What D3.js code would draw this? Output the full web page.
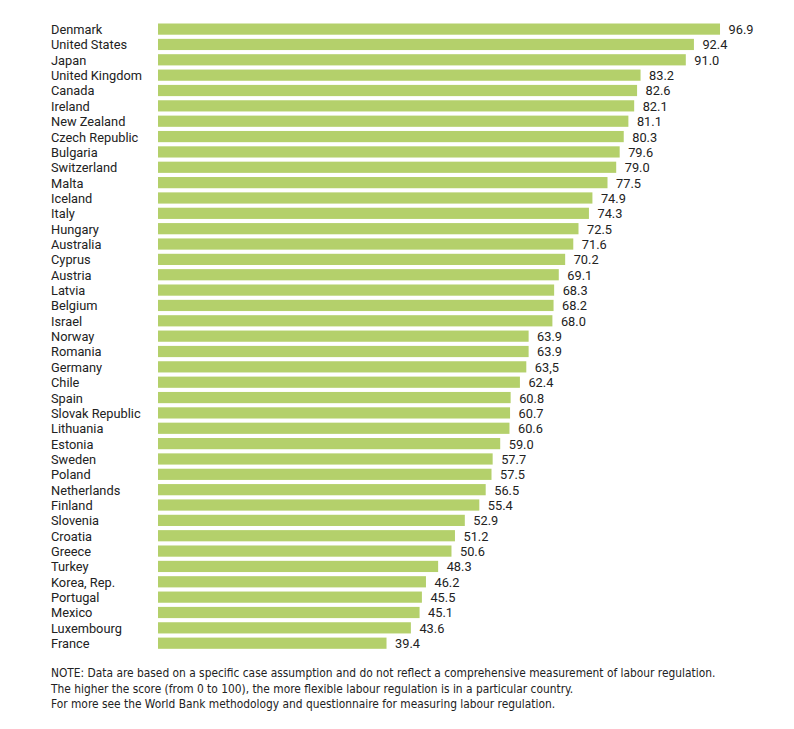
<!DOCTYPE html>
<html><head><meta charset="utf-8">
<script src="https://cdn.jsdelivr.net/npm/d3@7"></script>
<style>body{margin:0;background:#fff;}svg{display:block;}</style>
</head><body>
<svg id="chart" width="794" height="729"></svg>
<script>
const countries = ["Denmark","United States","Japan","United Kingdom","Canada","Ireland","New Zealand","Czech Republic","Bulgaria","Switzerland","Malta","Iceland","Italy","Hungary","Australia","Cyprus","Austria","Latvia","Belgium","Israel","Norway","Romania","Germany","Chile","Spain","Slovak Republic","Lithuania","Estonia","Sweden","Poland","Netherlands","Finland","Slovenia","Croatia","Greece","Turkey","Korea, Rep.","Portugal","Mexico","Luxembourg","France"];
const values = [96.9,92.4,91.0,83.2,82.6,82.1,81.1,80.3,79.6,79.0,77.5,74.9,74.3,72.5,71.6,70.2,69.1,68.3,68.2,68.0,63.9,63.9,63.5,62.4,60.8,60.7,60.6,59.0,57.7,57.5,56.5,55.4,52.9,51.2,50.6,48.3,46.2,45.5,45.1,43.6,39.4];
const valueLabels = ["96.9","92.4","91.0","83.2","82.6","82.1","81.1","80.3","79.6","79.0","77.5","74.9","74.3","72.5","71.6","70.2","69.1","68.3","68.2","68.0","63.9","63.9","63,5","62.4","60.8","60.7","60.6","59.0","57.7","57.5","56.5","55.4","52.9","51.2","50.6","48.3","46.2","45.5","45.1","43.6","39.4"];
const noteLines = [
  "NOTE: Data are based on a specific case assumption and do not reflect a comprehensive measurement of labour regulation.",
  "The higher the score (from 0 to 100), the more flexible labour regulation is in a particular country.",
  "For more see the World Bank methodology and questionnaire for measuring labour regulation."
];

const svg = d3.select("#chart");
const x = d3.scaleLinear().domain([0, 100]).range([158, 158 + 580]);
const y = d3.scaleBand().domain(countries).range([21.5, 650.8]).paddingInner(0.27).paddingOuter(0.13);

const font = "Roboto, 'Open Sans', sans-serif";

svg.append("g").selectAll("rect").data(countries).join("rect")
  .attr("x", x(0))
  .attr("y", d => y(d))
  .attr("width", (d, i) => x(values[i]) - x(0))
  .attr("height", y.bandwidth())
  .attr("fill", "#b4d06b");

svg.append("g").selectAll("text").data(countries).join("text")
  .attr("x", 51)
  .attr("y", d => y(d) + y.bandwidth() / 2 + 0.5)
  .attr("dy", "0.35em")
  .attr("font-family", font)
  .attr("font-size", 12.8)
  .attr("fill", "#222")
  .text(d => d);

svg.append("g").selectAll("text").data(countries).join("text")
  .attr("x", (d, i) => x(values[i]) + 8.5)
  .attr("y", d => y(d) + y.bandwidth() / 2 + 0.5)
  .attr("dy", "0.35em")
  .attr("font-family", font)
  .attr("font-size", 12.8)
  .attr("fill", "#222")
  .text((d, i) => valueLabels[i]);

svg.append("g").selectAll("text").data(noteLines).join("text")
  .attr("x", 51)
  .attr("y", (d, i) => 677 + i * 15.5)
  .attr("font-family", "'DejaVu Sans Condensed', 'Liberation Sans Narrow', sans-serif")
  .attr("font-stretch", "condensed")
  .attr("font-size", 11.85)
  .attr("fill", "#222")
  .text(d => d);
</script>
</body></html>
